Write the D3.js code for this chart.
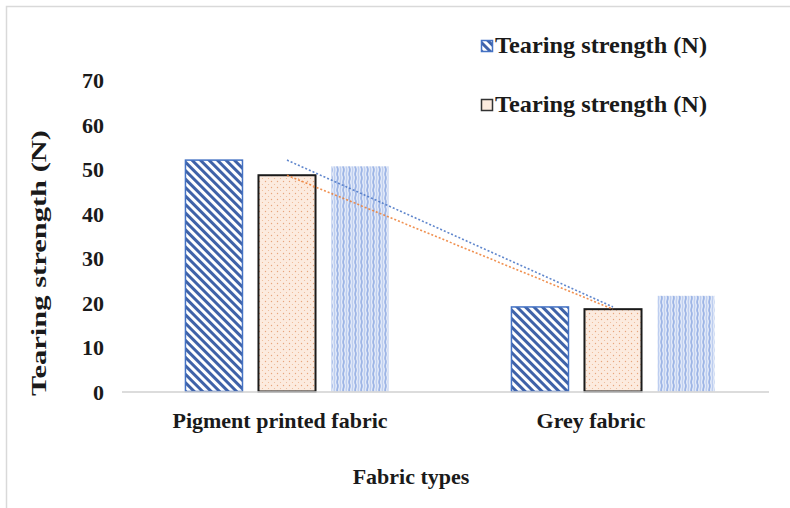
<!DOCTYPE html>
<html>
<head>
<meta charset="utf-8">
<script src="https://cdn.jsdelivr.net/npm/d3@7"></script>
<style>
  html, body { margin: 0; padding: 0; background: #fff; }
  svg { display: block; }
  text { font-family: "Liberation Serif", "Times New Roman", serif; font-weight: bold; fill: #1a1a1a; }
</style>
</head>
<body>
<svg id="chart" width="790" height="508"></svg>
<script>
const categories = ["Pigment printed fabric", "Grey fabric"];
const seriesNames = ["Tearing strength (N) A", "Tearing strength (N) B", "Tearing strength (N) C"];
const seriesA = [52.0, 19.0];
const seriesB = [48.6, 18.5];
const seriesC = [50.6, 21.5];
const yTicks = [0, 10, 20, 30, 40, 50, 60, 70];
const legendLabels = ["Tearing strength (N)", "Tearing strength (N)"];
const yTitle = "Tearing strength (N)";
const xTitle = "Fabric types";

const svg = d3.select("#chart");
const defs = svg.append("defs");

// Pattern: blue diagonal stripes (top-left to bottom-right)
const pA = defs.append("pattern").attr("id", "patA").attr("patternUnits", "userSpaceOnUse")
  .attr("width", 6).attr("height", 6).attr("patternTransform", "rotate(45)");
pA.append("rect").attr("width", 6).attr("height", 6).attr("fill", "#ffffff");
pA.append("rect").attr("x", 0).attr("y", 0).attr("width", 6).attr("height", 3).attr("fill", "#3f62a8");

// Pattern: peach dots
const pB = defs.append("pattern").attr("id", "patB").attr("patternUnits", "userSpaceOnUse")
  .attr("width", 6).attr("height", 6);
pB.append("rect").attr("width", 6).attr("height", 6).attr("fill", "#fcebdf");
pB.append("circle").attr("cx", 1.5).attr("cy", 1.5).attr("r", 0.7).attr("fill", "#e8a57c");
pB.append("circle").attr("cx", 4.5).attr("cy", 4.5).attr("r", 0.6).attr("fill", "#edb893");

// Pattern: light blue vertical wavy stripes
const pC = defs.append("pattern").attr("id", "patC").attr("patternUnits", "userSpaceOnUse")
  .attr("width", 6).attr("height", 8);
pC.append("rect").attr("width", 6).attr("height", 8).attr("fill", "#e3eaf8");
pC.append("path").attr("d", "M1.5,0 Q2.3,2 1.5,4 Q0.7,6 1.5,8").attr("stroke", "#9db5e6").attr("stroke-width", 1.8).attr("fill", "none");
pC.append("path").attr("d", "M4.5,0 Q5.0,2 4.5,4 Q4.0,6 4.5,8").attr("stroke", "#bccdf0").attr("stroke-width", 1.3).attr("fill", "none");

// Outer frame
svg.append("rect").attr("x", 6.5).attr("y", 6.5).attr("width", 800).attr("height", 520)
  .attr("fill", "none").attr("stroke", "#d9d9d9").attr("stroke-width", 1.5);

const y = d3.scaleLinear().domain([0, 70]).range([391.5, 80]);
const x0 = d3.scaleBand().domain(categories).range([124, 776]).paddingInner(0.377).paddingOuter(0.1885);
const x1 = d3.scaleBand().domain(seriesNames).range([0, x0.bandwidth()]).paddingInner(0.219).paddingOuter(0);
const labelX = d3.scalePoint().domain(categories).range([280, 591]);

const seriesData = [
  { name: seriesNames[0], values: seriesA, fill: "url(#patA)", stroke: "#4472c4", sw: 1.5 },
  { name: seriesNames[1], values: seriesB, fill: "url(#patB)", stroke: "#1a1a1a", sw: 2 },
  { name: seriesNames[2], values: seriesC, fill: "url(#patC)", stroke: "none", sw: 0 }
];

// Y axis tick labels
const yAxis = d3.axisLeft(y).tickValues(yTicks).tickSize(0).tickPadding(0);
const yg = svg.append("g").attr("transform", "translate(104,0)").call(yAxis);
yg.select(".domain").remove();
yg.selectAll("text").style("font-family", '"Liberation Serif", serif').style("font-weight", "bold")
  .style("font-size", "22px").attr("fill", "#1a1a1a").attr("dy", "0.35em");

// Bars
const groups = svg.append("g").selectAll("g").data(seriesData).join("g");
groups.selectAll("rect").data(s => s.values.map((v, i) => ({ v, cat: categories[i], s })))
  .join("rect")
  .attr("x", d => x0(d.cat) + x1(d.s.name))
  .attr("y", d => y(d.v))
  .attr("width", x1.bandwidth())
  .attr("height", d => y(0) - y(d.v))
  .attr("fill", d => d.s.fill)
  .attr("stroke", d => d.s.stroke)
  .attr("stroke-width", d => d.s.sw);

// Baseline
svg.append("line").attr("x1", 122).attr("x2", 769).attr("y1", y(0) + 0.5).attr("y2", y(0) + 0.5)
  .attr("stroke", "#d0d0d0").attr("stroke-width", 1.5);

// Trendlines (linear through category centers)
const trend = [
  { values: seriesA, color: "#4472c4" },
  { values: seriesB, color: "#ed7d31" }
];
const lineGen = d3.line().x((d, i) => x0(categories[i]) + x0.bandwidth() / 2).y(d => y(d));
svg.append("g").selectAll("path").data(trend).join("path")
  .attr("d", d => lineGen(d.values))
  .attr("fill", "none").attr("stroke", d => d.color).attr("stroke-width", 1.6)
  .attr("stroke-dasharray", "2,2").attr("opacity", 0.85);

// Category labels
svg.append("g").selectAll("text").data(categories).join("text")
  .attr("x", d => labelX(d)).attr("y", 428).attr("text-anchor", "middle")
  .style("font-size", "22px").text(d => d);

// Axis titles
svg.append("text").attr("x", 411).attr("y", 484).attr("text-anchor", "middle")
  .style("font-size", "22px").text(xTitle);
svg.append("text").attr("transform", "translate(46,263) rotate(-90)").attr("text-anchor", "middle")
  .style("font-size", "20px").attr("textLength", 266).attr("lengthAdjust", "spacingAndGlyphs").text(yTitle);

// Legend
const leg = svg.append("g").selectAll("g").data(legendLabels).join("g")
  .attr("transform", (d, i) => `translate(481,${i === 0 ? 40 : 99})`);
leg.append("rect").attr("x", 0.5).attr("y", 0.5).attr("width", 11).attr("height", 11)
  .attr("fill", (d, i) => i === 0 ? "url(#patA)" : "#fcebdf")
  .attr("stroke", (d, i) => i === 0 ? "#4472c4" : "#333").attr("stroke-width", 1.5);
leg.append("text").attr("x", 14).attr("y", 13).style("font-size", "24px")
  .attr("textLength", 212).attr("lengthAdjust", "spacingAndGlyphs").text(d => d);
</script>
</body>
</html>
